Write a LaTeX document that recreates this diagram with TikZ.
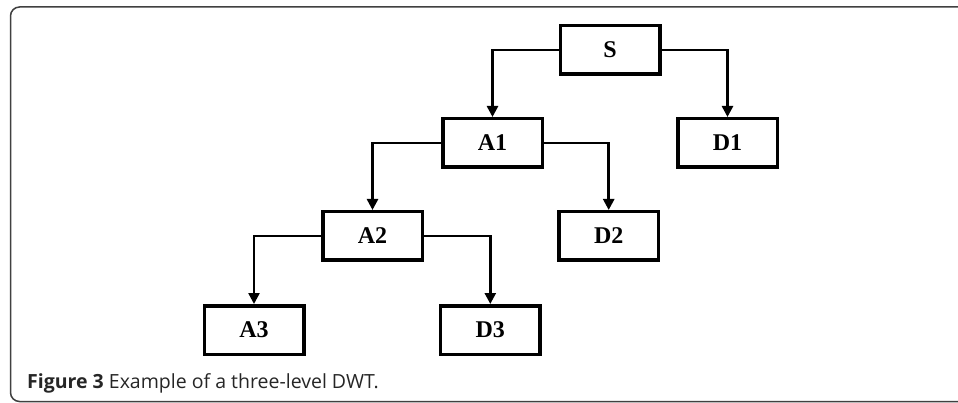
\documentclass[tikz,border=0pt]{standalone}
\usepackage{fontspec}
\setmainfont{Liberation Serif}
\newfontfamily\capfont{Open Sans}
\usetikzlibrary{arrows.meta}
\begin{document}
\begin{tikzpicture}[x=1pt,y=-1pt,
  blk/.style={draw, line width=3.5pt, minimum width=99.5pt, minimum height=48.5pt, inner sep=0pt, font=\fontsize{24}{26}\selectfont\bfseries},
  conn/.style={line width=2.5pt, -{Triangle[length=11pt,width=11pt]}}]
\useasboundingbox (0,0) rectangle (958,403);
\fill[white] (0,0) rectangle (958,403);
\draw[line width=1.5pt, black!75, rounded corners=9pt] (1000,7) -- (10.5,7) -- (10.5,401.5) -- (1000,401.5);
\node[blk] (S) at (610,50) {S};
\node[blk] (A1) at (492.5,143) {A1};
\node[blk] (D1) at (727.5,143) {D1};
\node[blk] (A2) at (372.5,236) {A2};
\node[blk] (D2) at (608.7,236) {D2};
\node[blk] (A3) at (254,330) {A3};
\node[blk] (D3) at (490.3,330) {D3};
\draw[conn] (S.west) -| (A1.north);
\draw[conn] (S.east) -| (D1.north);
\draw[conn] (A1.west) -| (A2.north);
\draw[conn] (A1.east) -| (D2.north);
\draw[conn] (A2.west) -| (A3.north);
\draw[conn] (A2.east) -| (D3.north);
\node[anchor=base west, inner sep=0pt, font=\capfont\fontsize{19.5}{22}\selectfont, text=black!85] (cap) at (27,388) {\textbf{Figure 3} Example of a three-level DWT.};
\end{tikzpicture}
\end{document}
